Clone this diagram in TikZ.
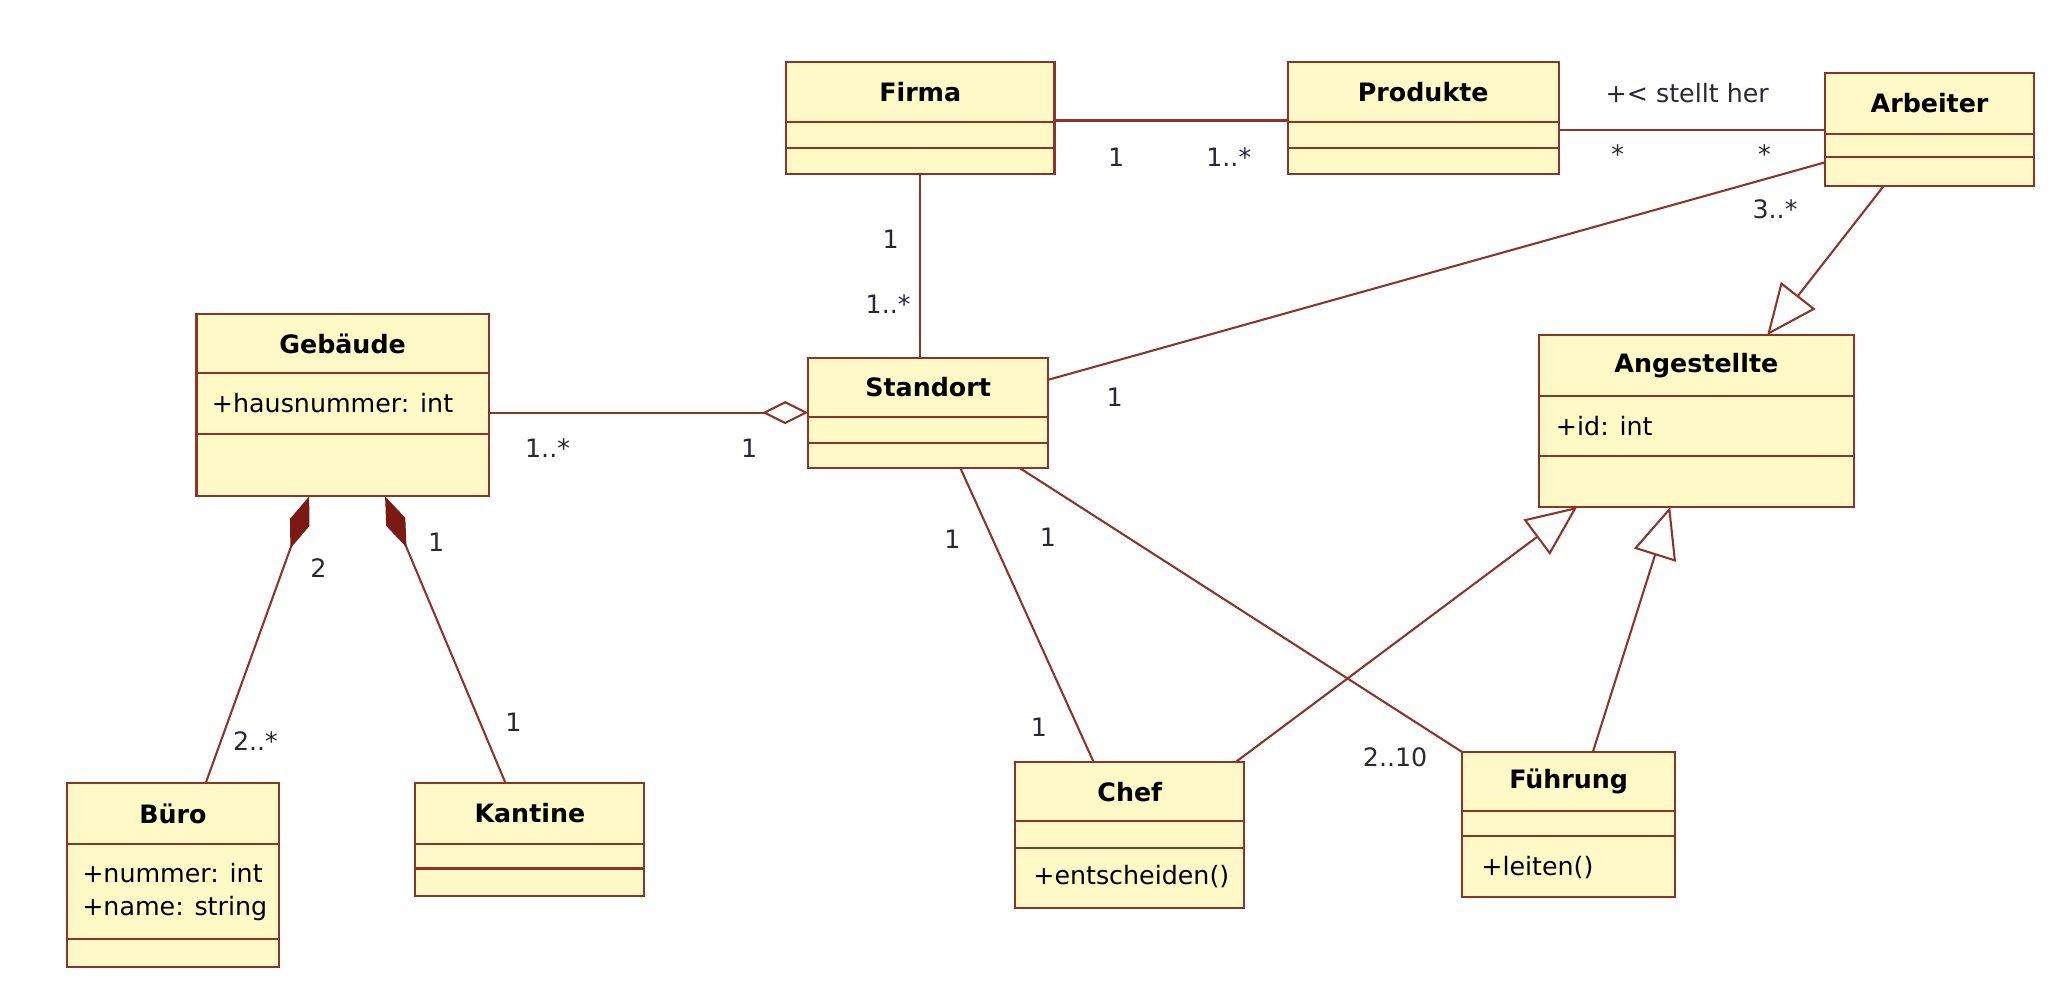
\documentclass[tikz,border=0pt]{standalone}
\usepackage{fontspec}
\setmainfont{DejaVu Sans}
\usepackage{tikz}
\usetikzlibrary{arrows.meta, positioning}

\definecolor{umlline}{RGB}{140,52,40}
\definecolor{umlfill}{RGB}{254,249,198}
\definecolor{umldark}{RGB}{122,26,18}
\definecolor{umltext}{RGB}{40,40,52}

\begin{document}
\begin{tikzpicture}[x=0.02cm, y=-0.02cm, line width=0.9pt,
  cbox/.style={draw=umlline, fill=umlfill, anchor=north west, inner sep=0pt, outer sep=0pt},
  ctitle/.style={font=\fontsize{11}{13}\selectfont\bfseries, inner sep=0pt},
  cattr/.style={font=\fontsize{11}{14.5}\selectfont, anchor=west, align=left, inner sep=0pt},
  mult/.style={font=\fontsize{11}{13}\selectfont, text=umltext, inner sep=0pt},
  cline/.style={draw=umlline},
  assoc/.style={draw=umlline},
  gen/.style={draw=umlline, -{Triangle[open, length=22pt, width=19pt]}},
  agg/.style={draw=umlline, -{Diamond[open, length=20pt, width=10pt]}},
  comp/.style={draw=umlline, -{Diamond[length=24pt, width=9pt, color=umldark, fill=umldark]}}]

\useasboundingbox (0,0) rectangle (1568,759);

% classes
\node[cbox, minimum width=4.1cm, minimum height=1.72cm] (firma) at (600,47) {};
\node[ctitle] (firma-t) at (702.5,70) {Firma};
\draw[cline] (600,93) -- (805,93) (600,113) -- (805,113);

\node[cbox, minimum width=4.14cm, minimum height=1.72cm] (produkte) at (983,47) {};
\node[ctitle] (produkte-t) at (1086.5,70) {Produkte};
\draw[cline] (983,93) -- (1190,93) (983,113) -- (1190,113);

\node[cbox, minimum width=3.2cm, minimum height=1.72cm] (arbeiter) at (1393,56) {};
\node[ctitle] (arbeiter-t) at (1473,79) {Arbeiter};
\draw[cline] (1393,102) -- (1553,102) (1393,120) -- (1553,120);

\node[cbox, minimum width=4.46cm, minimum height=2.78cm] (gebaeude) at (150,240) {};
\node[ctitle] (gebaeude-t) at (261.5,262.5) {Gebäude};
\draw[cline] (150,285) -- (373,285) (150,331) -- (373,331);
\node[cattr] (gebaeude-a) at (161,308) {+hausnummer: int};

\node[cbox, minimum width=3.66cm, minimum height=1.68cm] (standort) at (617,273) {};
\node[ctitle] (standort-t) at (708.5,295.5) {Standort};
\draw[cline] (617,318) -- (800,318) (617,338) -- (800,338);

\node[cbox, minimum width=4.8cm, minimum height=2.62cm] (angest) at (1175,256) {};
\node[ctitle] (angest-t) at (1295,279) {Angestellte};
\draw[cline] (1175,302) -- (1415,302) (1175,348) -- (1415,348);
\node[cattr] (angest-a) at (1187,325) {+id: int};

\node[cbox, minimum width=3.24cm, minimum height=2.8cm] (buero) at (51,598) {};
\node[ctitle] (buero-t) at (132,621) {Büro};
\draw[cline] (51,644) -- (213,644) (51,717) -- (213,717);
\node[cattr] (buero-a) at (62,681) {+nummer: int\\+name: string};

\node[cbox, minimum width=3.5cm, minimum height=1.72cm] (kantine) at (317,598) {};
\node[ctitle] (kantine-t) at (404.5,621) {Kantine};
\draw[cline] (317,644) -- (492,644) (317,663) -- (492,663);

\node[cbox, minimum width=3.5cm, minimum height=2.22cm] (chef) at (775,582) {};
\node[ctitle] (chef-t) at (862.5,604.5) {Chef};
\draw[cline] (775,627) -- (950,627) (775,647) -- (950,647);
\node[cattr] (chef-m) at (788,669) {+entscheiden()};

\node[cbox, minimum width=3.26cm, minimum height=2.22cm] (fuehrung) at (1116,574) {};
\node[ctitle] (fuehrung-t) at (1197.5,596.5) {Führung};
\draw[cline] (1116,619) -- (1279,619) (1116,638) -- (1279,638);
\node[cattr] (fuehrung-m) at (1130,662) {+leiten()};

% associations
\draw[assoc] ([yshift=-0.04cm]firma.east) -- ([yshift=-0.04cm]produkte.west);
\node[mult] at (852,120) {1};
\node[mult] at (938,120) {1..*};

\draw[assoc] (arbeiter.west -| produkte.east) -- (arbeiter.west);
\node[mult] at (1288,71) {+< stellt her};
\node[mult] at (1235,118) {*};
\node[mult] at (1347,118) {*};

\draw[assoc] (firma.south) -- (firma.south |- standort.north);
\node[mult] at (680,183) {1};
\node[mult] at (678,232) {1..*};

\draw[assoc] ([yshift=-0.5cm]arbeiter.west) -- ([yshift=0.5cm]standort.east);
\node[mult] at (1355,160) {3..*};
\node[mult] at (851,303) {1};

\draw[agg] (standort.west -| gebaeude.east) -- (standort.west);
\node[mult] at (418,342) {1..*};
\node[mult] at (572,342) {1};

\draw[comp] ([xshift=0.5cm]buero.north) -- ([xshift=-0.51cm]gebaeude.south);
\node[mult] at (243,434) {2};
\node[mult] at (195,566) {2..*};

\draw[comp] ([xshift=-0.37cm]kantine.north) -- ([xshift=0.65cm]gebaeude.south);
\node[mult] at (333,414) {1};
\node[mult] at (392,551) {1};

\draw[assoc] ([xshift=0.49cm]standort.south) -- ([xshift=-0.55cm]chef.north);
\node[mult] at (727,412) {1};
\node[mult] at (793,555) {1};

\draw[assoc] ([xshift=1.39cm]standort.south) -- (fuehrung.north west);
\node[mult] at (800,410) {1};
\node[mult] at (1065,578) {2..10};

% generalizations
\draw[gen] ([xshift=1.61cm]chef.north) -- ([xshift=-1.82cm]angest.south);
\draw[gen] ([xshift=0.37cm]fuehrung.north) -- ([xshift=-0.4cm]angest.south);
\draw[gen] ([xshift=-0.7cm]arbeiter.south) -- ([xshift=1.08cm]angest.north);

\end{tikzpicture}
\end{document}
